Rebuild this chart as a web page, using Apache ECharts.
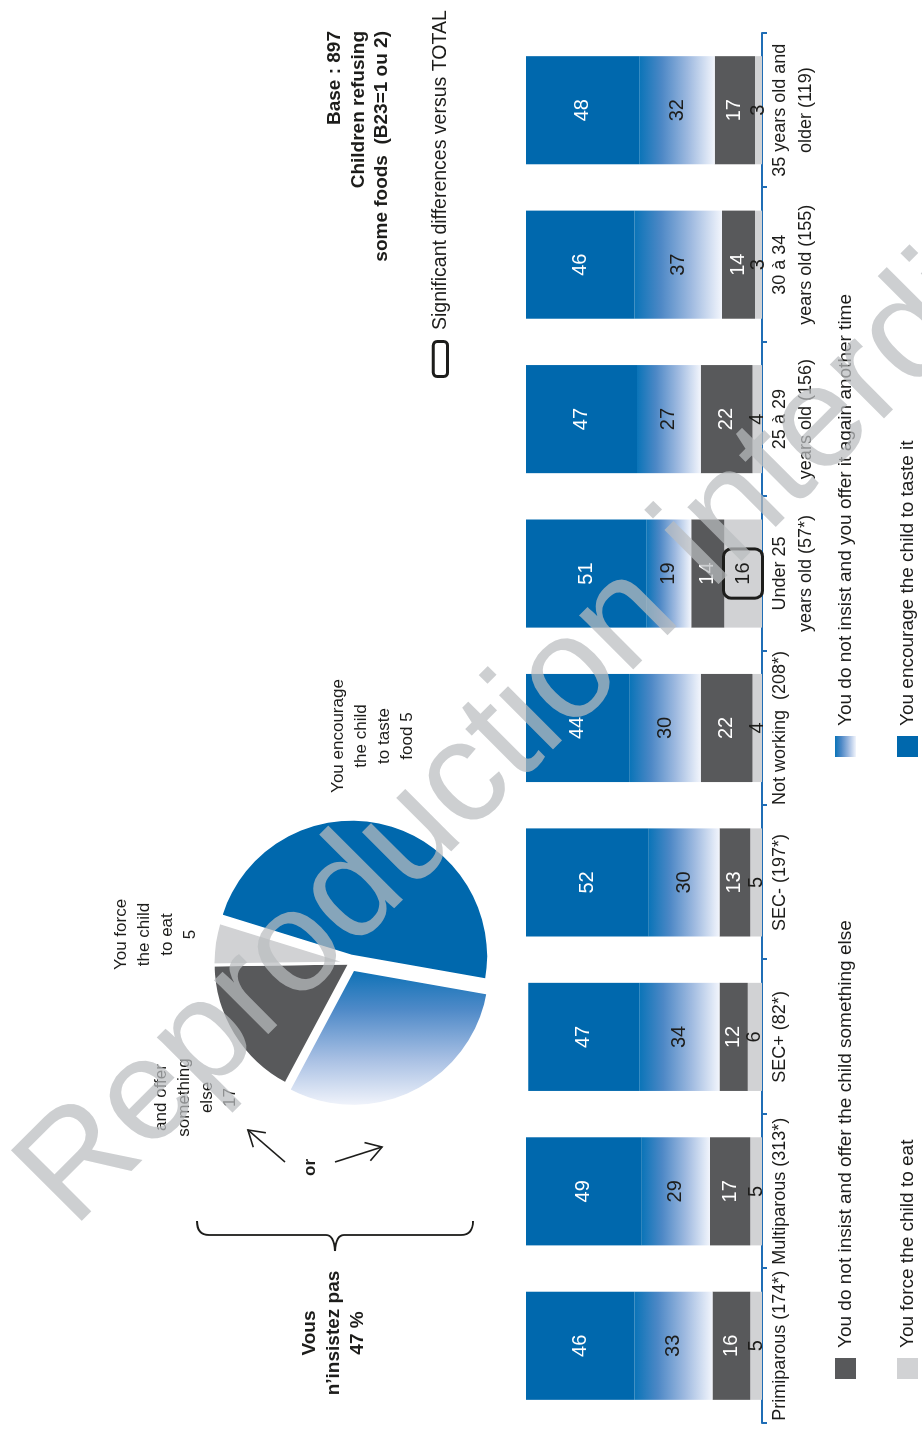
<!DOCTYPE html>
<html>
<head>
<meta charset="utf-8">
<script src="https://cdn.jsdelivr.net/npm/echarts@6/dist/echarts.min.js"></script>
<style>
  html, body { margin: 0; padding: 0; background: #fff; overflow: hidden; width: 922px; height: 1433px; }
  /* the chart is laid out landscape and turned a quarter turn to read bottom-to-top */
  #chart { position: absolute; left: 0; top: 0; width: 1433px; height: 922px;
           transform-origin: 0 0; transform: translate(0, 1433px) rotate(-90deg); }
</style>
</head>
<body>
<div id="chart"></div>
<script>
// ---- data ----
const categories = [
  'Primiparous (174*)', 'Multiparous (313*)', 'SEC+ (82*)', 'SEC- (197*)',
  'Not working  (208*)', 'Under 25\nyears old (57*)', '25 à 29\nyears old (156)',
  '30 à 34\nyears old (155)', '35 years old and\nolder (119)'
];
const seriesNames = [
  'You force the child to eat',
  'You do not insist and offer the child something else',
  'You do not insist and you offer it again another time',
  'You encourage the child to taste it'
];
const forceEat   = [5, 5, 6, 5, 4, 16, 4, 3, 3];
const offerElse  = [16, 17, 12, 13, 22, 14, 22, 14, 17];
const offerAgain = [33, 29, 34, 30, 30, 19, 27, 37, 32];
const encourage  = [46, 49, 47, 52, 44, 51, 47, 46, 48];
// significant difference versus TOTAL (boxed value)
const forceSignificant = [0, 0, 0, 0, 0, 1, 0, 0, 0];

// overall split (pie)
const pieForce = 5;
const pieElse = 17;
const pieAgain = 30;
const pieEncourage = 48;
const baseCount = 897;

// ---- styles ----
const FONT = '"Liberation Sans", Arial, Helvetica, sans-serif';
const INK = '#1d1d1b';
const BLUE = '#0068ad';
const DARK = '#58595b';
const LIGHT = '#d1d2d4';
const AXIS = '#1f6db5';

function linear(x, y, x2, y2, stops) {
  return { type: 'linear', x: x, y: y, x2: x2, y2: y2,
           colorStops: stops.map(s => ({ offset: s[0], color: s[1] })) };
}
const barGradient = linear(0, 0, 0, 1,
  [[0, '#0a74b8'], [0.3, '#4d88c6'], [0.65, '#9fbae0'], [1, '#f2f5fc']]);
const pieGradient = linear(1, 0, 0, 0,
  [[0, '#0a70b5'], [0.3, '#4f8ac8'], [0.65, '#a7bfe3'], [1, '#f4f6fc']]);

function barSeries(name, values, color, labelColor, flags) {
  return {
    type: 'bar', name: name, stack: 'total', silent: true,
    barCategoryGap: '30%',
    itemStyle: { color: color },
    label: { show: true, position: 'inside', color: labelColor, fontSize: 20, fontFamily: FONT },
    data: values.map((v, i) => (flags && flags[i]) ? {
      value: v,
      label: { borderColor: INK, borderWidth: 3, borderRadius: 6, padding: [8, 12],
               backgroundColor: LIGHT, color: INK }
    } : v)
  };
}

const lineStyle = { stroke: INK, lineWidth: 1.6, fill: null };

// small arrow (shaft + open head) from tail to head
function arrow(tail, head) {
  const dx = tail[0] - head[0], dy = tail[1] - head[1];
  const d = Math.hypot(dx, dy), bx = dx / d, by = dy / d;
  const len = 18, a = 32 * Math.PI / 180, c = Math.cos(a), s = Math.sin(a);
  const p1 = [head[0] + len * (bx * c - by * s), head[1] + len * (bx * s + by * c)];
  const p2 = [head[0] + len * (bx * c + by * s), head[1] + len * (-bx * s + by * c)];
  return [
    { type: 'line', z: 50, shape: { x1: tail[0], y1: tail[1], x2: head[0], y2: head[1] }, style: lineStyle },
    { type: 'polyline', z: 50, shape: { points: [p1, head, p2] }, style: lineStyle }
  ];
}

// curly brace along x = bx, from y0 to y1, tip pointing left at mid
function brace(bx, y0, y1, hook, tip) {
  const m = (y0 + y1) / 2;
  const st = { stroke: INK, lineWidth: 1.8, fill: null };
  const curve = (x1, y1_, cx, cy, x2, y2) =>
    ({ type: 'bezierCurve', z: 50, shape: { x1: x1, y1: y1_, cpx1: cx, cpy1: cy, x2: x2, y2: y2 }, style: st });
  return [
    curve(bx + hook, y0, bx, y0, bx, y0 + 12),
    { type: 'line', z: 50, shape: { x1: bx, y1: y0 + 12, x2: bx, y2: m - 9 }, style: st },
    curve(bx, m - 9, bx, m - 1, bx - tip, m),
    curve(bx - tip, m, bx, m + 1, bx, m + 9),
    { type: 'line', z: 50, shape: { x1: bx, y1: m + 9, x2: bx, y2: y1 - 12 }, style: st },
    curve(bx, y1 - 12, bx, y1, bx + hook, y1)
  ];
}

function text(x, y, str, opts) {
  return {
    type: 'text', x: x, y: y, z: 50,
    style: Object.assign({
      text: str, fill: INK, fontFamily: FONT, fontSize: 17,
      align: 'center', verticalAlign: 'middle', lineHeight: 23
    }, opts || {})
  };
}

const chart = echarts.init(document.getElementById('chart'), null, { renderer: 'canvas' });

const graphics = [
  text(1402, 358.5, 'Base : ' + baseCount + '\nChildren refusing\nsome foods  (B23=1 ou 2)',
       { fontSize: 19, fontWeight: 'bold', align: 'right', lineHeight: 23.5 }),
  { type: 'rect', z: 50, shape: { x: 1056.5, y: 433.2, width: 35, height: 14.3, r: 4 },
    style: { fill: '#fff', stroke: INK, lineWidth: 3 } },
  text(1103, 440.5, 'Significant differences versus TOTAL', { fontSize: 19.5, align: 'left' }),
  text(498.5, 156, 'You force\nthe child\nto eat\n' + pieForce),
  text(697, 372.5, 'You encourage\nthe child\nto taste\nfood 5'),
  text(335.5, 196, 'and offer\nsomething\nelse\n' + pieElse),
  text(265.5, 310.5, 'or', { fontWeight: 'bold' }),
  ...arrow([271, 285], [303, 248]),
  ...arrow([271, 335], [286, 382]),
  ...brace(198, 197, 473, 14, 16),
  text(100, 334, 'Vous\nn\u2019insistez pas\n' + (pieElse + pieAgain) + ' %',
       { fontSize: 19, fontWeight: 'bold', lineHeight: 24 }),
  { type: 'text', x: 232, y: 45, rotation: -Math.PI / 4, z: 200,
    style: { text: 'Reproduction interdite', fontFamily: FONT, fontSize: 145,
             fill: 'rgba(186,188,191,0.72)', align: 'left', verticalAlign: 'middle' } }
];

const legendText = { fontSize: 19, color: INK, fontFamily: FONT, padding: [0, 0, 0, 5] };

chart.setOption({
  animation: false,
  backgroundColor: 'transparent',
  grid: { left: 10, right: 33, top: 526, bottom: 160, containLabel: false },
  xAxis: {
    type: 'category', data: categories,
    axisLine: { show: true, lineStyle: { color: AXIS, width: 2 } },
    axisTick: { show: true, length: 5, alignWithLabel: false, lineStyle: { color: AXIS, width: 2 } },
    axisLabel: { interval: 0, margin: 5, fontSize: 18, lineHeight: 26, color: INK, fontFamily: FONT }
  },
  yAxis: { type: 'value', min: 0, max: 100, show: false },
  legend: [
    { orient: 'vertical', left: 54, top: 835, padding: 0, itemWidth: 21, itemHeight: 21, itemGap: 41,
      icon: 'rect', selectedMode: false, textStyle: legendText,
      data: [seriesNames[1], seriesNames[0]] },
    { orient: 'vertical', left: 676, top: 835, padding: 0, itemWidth: 21, itemHeight: 21, itemGap: 41,
      icon: 'rect', selectedMode: false, textStyle: legendText,
      data: [seriesNames[2], seriesNames[3]] }
  ],
  series: [
    barSeries(seriesNames[0], forceEat, LIGHT, INK, forceSignificant),
    barSeries(seriesNames[1], offerElse, DARK, '#ffffff'),
    barSeries(seriesNames[2], offerAgain, barGradient, INK),
    barSeries(seriesNames[3], encourage, BLUE, '#ffffff'),
    {
      type: 'pie', center: [470, 350], radius: 137, startAngle: 260, clockwise: true,
      silent: true, selectedMode: 'multiple', selectedOffset: 7,
      label: { show: false }, labelLine: { show: false }, emphasis: { disabled: true },
      itemStyle: { borderColor: '#fff', borderWidth: 3 },
      data: [
        { name: 'offer again', value: pieAgain, selected: true, itemStyle: { color: pieGradient } },
        { name: 'offer else', value: pieElse, itemStyle: { color: DARK } },
        { name: 'force', value: pieForce, itemStyle: { color: LIGHT } },
        { name: 'encourage', value: pieEncourage, selected: true, itemStyle: { color: BLUE } }
      ]
    }
  ],
  graphic: graphics
});
</script>
</body>
</html>
